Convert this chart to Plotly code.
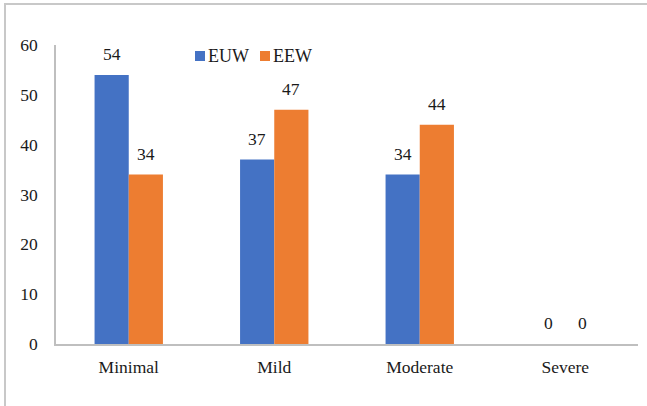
import plotly.graph_objects as go

categories = ["Minimal", "Mild", "Moderate", "Severe"]
euw_values = [54, 37, 34, 0]
eew_values = [34, 47, 44, 0]
y_ticks = [0, 10, 20, 30, 40, 50, 60]

FONT = "Liberation Serif"
BLUE = "#4472C4"
ORANGE = "#ED7D31"
TEXT = "#1a1a1a"

W, H = 647, 406
ml, mr, mt, mb = 56, 9, 45, 62
pw, ph = W - ml - mr, H - mt - mb


def px_x(x):
    return (x - ml) / pw


def px_y(y):
    return 1 - (y - mt) / ph


fig = go.Figure()
series = [("EUW", euw_values, BLUE, -17, 195), ("EEW", eew_values, ORANGE, 17, 260)]
for name, vals, color, dx, key_x in series:
    fig.add_trace(go.Bar(
        name=name, x=categories, y=vals,
        marker=dict(color=color, line=dict(width=0)),
        showlegend=False,
    ))
    # value labels above each bar
    for cat, v in zip(categories, vals):
        fig.add_annotation(x=cat, y=v, text=str(v), showarrow=False,
                           xshift=dx, yshift=9, yanchor="bottom",
                           font=dict(family=FONT, size=17.5, color=TEXT))
    # legend key: colour square followed by series name
    fig.add_shape(type="rect", xref="paper", yref="paper",
                  x0=px_x(key_x), x1=px_x(key_x + 10),
                  y0=px_y(61), y1=px_y(51),
                  line=dict(width=0), fillcolor=color)
    fig.add_annotation(xref="paper", yref="paper", x=px_x(key_x + 11),
                       y=px_y(56), text=name, showarrow=False,
                       xanchor="left", yanchor="middle",
                       font=dict(family=FONT, size=18, color=TEXT))

# light frame around the chart area
fig.add_shape(type="rect", xref="paper", yref="paper",
              x0=px_x(5), x1=px_x(W + 20),
              y0=px_y(H + 20), y1=px_y(4),
              line=dict(color="#C8C8C8", width=2), fillcolor="rgba(0,0,0,0)")

fig.update_layout(
    width=W, height=H,
    margin=dict(l=ml, r=mr, t=mt, b=mb),
    paper_bgcolor="white", plot_bgcolor="white",
    barmode="group", bargap=0.53, bargroupgap=0,
    font=dict(family=FONT, size=17.5, color=TEXT),
    showlegend=False,
    xaxis=dict(showline=True, linecolor="#BFBFBF", linewidth=1.5,
               ticks="", showgrid=False,
               tickfont=dict(family=FONT, size=17.5, color=TEXT),
               ticklabelstandoff=6),
    yaxis=dict(range=[0, 60], tickvals=y_ticks, showline=True,
               linecolor="#BFBFBF", linewidth=1.5, ticks="",
               showgrid=False, zeroline=False,
               tickfont=dict(family=FONT, size=17.5, color=TEXT),
               ticklabelstandoff=13),
)

fig.write_html("out.html")
